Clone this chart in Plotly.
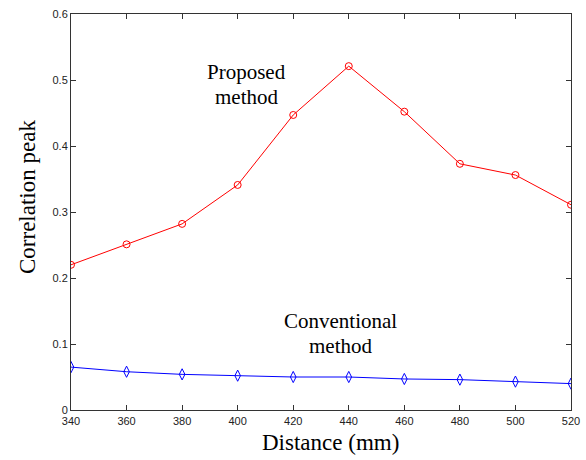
import plotly.graph_objects as go

distance = [340, 360, 380, 400, 420, 440, 460, 480, 500, 520]
proposed = [0.220, 0.251, 0.282, 0.341, 0.447, 0.521, 0.452, 0.373, 0.356, 0.311]
conventional = [0.065, 0.058, 0.054, 0.052, 0.050, 0.050, 0.047, 0.046, 0.043, 0.040]
x_ticks = [340, 360, 380, 400, 420, 440, 460, 480, 500, 520]
y_ticks = [0, 0.1, 0.2, 0.3, 0.4, 0.5, 0.6]
y_tick_text = ["0", "0.1", "0.2", "0.3", "0.4", "0.5", "0.6"]

fig = go.Figure()
fig.add_trace(go.Scatter(
    x=distance, y=proposed, mode="lines+markers",
    line=dict(color="#ff0000", width=1),
    marker=dict(symbol="circle-open", size=7, color="#ff0000", line=dict(width=1)),
    showlegend=False,
))
fig.add_trace(go.Scatter(
    x=distance, y=conventional, mode="lines+markers",
    line=dict(color="#0000ff", width=1),
    marker=dict(symbol="diamond-tall-open", size=8, color="#0000ff", line=dict(width=1)),
    showlegend=False,
))

serif = "Liberation Serif, Times New Roman, serif"
label_font = dict(family=serif, size=21, color="black")

# curve labels, one annotation per line for tight line spacing
for text, x, y in [("Proposed", 403, 0.512), ("method", 403, 0.474),
                   ("Conventional", 437, 0.135), ("method", 437, 0.097)]:
    fig.add_annotation(x=x, y=y, text=text, showarrow=False, font=label_font)

title_font = dict(family=serif, size=23, color="black")
fig.add_annotation(xref="paper", yref="paper", x=(330 - 71) / 500, y=(410 - 443) / 396,
                   xanchor="center", yanchor="middle",
                   text="Distance (mm)", showarrow=False, font=title_font)
fig.add_annotation(xref="paper", yref="paper", x=(27 - 71) / 500, y=(410 - 197) / 396,
                   xanchor="center", yanchor="middle",
                   text="Correlation peak", textangle=-90, showarrow=False, font=title_font)

axis_common = dict(
    showline=True, linecolor="#333333", linewidth=1, mirror="ticks",
    ticks="inside", ticklen=5, tickcolor="#333333",
    showgrid=False, zeroline=False, automargin=False,
    tickfont=dict(family="Liberation Sans, Arial, sans-serif", size=11, color="#222222"),
)
fig.update_xaxes(range=[340, 520], tickvals=x_ticks, ticklabelstandoff=1, **axis_common)
fig.update_yaxes(range=[0, 0.6], tickvals=y_ticks, ticktext=y_tick_text, **axis_common)

fig.update_layout(
    width=586, height=460,
    margin=dict(l=71, r=15, t=14, b=50),
    plot_bgcolor="white", paper_bgcolor="white",
)
fig.write_html("out.html")
